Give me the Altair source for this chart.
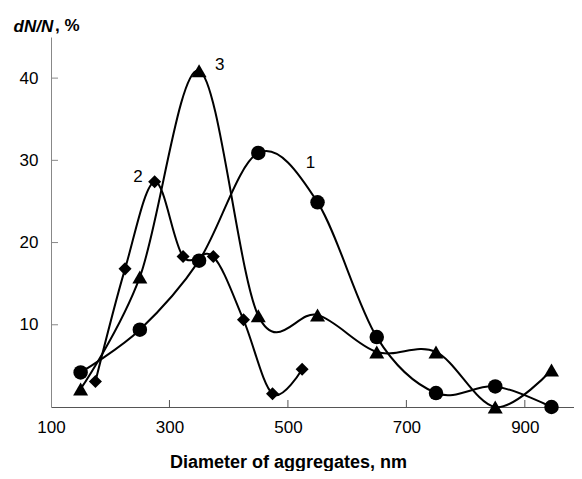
import altair as alt
import pandas as pd

# Series 1 (circles)
s1_x = [150, 250, 350, 450, 550, 650, 750, 850, 945]
s1_y = [4.2, 9.4, 17.8, 30.9, 24.9, 8.5, 1.7, 2.5, 0.0]
# Series 2 (diamonds)
s2_x = [175, 225, 275, 323, 374, 425, 474, 524]
s2_y = [3.1, 16.8, 27.4, 18.3, 18.3, 10.6, 1.6, 4.6]
# Series 3 (triangles)
s3_x = [150, 250, 350, 450, 550, 650, 750, 850, 945]
s3_y = [2.2, 15.8, 40.9, 11.1, 11.2, 6.7, 6.7, 0.0, 4.5]

# curve labels
lab_text = ["1", "2", "3"]
lab_x = [538, 247, 385]
lab_y = [29.7, 28.0, 41.6]

x_ticks = [100, 300, 500, 700, 900]
y_ticks = [10, 20, 30, 40]

W, H = 523, 370
xs = alt.Scale(domain=[100, 983], nice=False, zero=False)
ys = alt.Scale(domain=[0, 45], nice=False)

df1 = pd.DataFrame({"x": s1_x, "y": s1_y})
df2 = pd.DataFrame({"x": s2_x, "y": s2_y})
df3 = pd.DataFrame({"x": s3_x, "y": s3_y})
dlab = pd.DataFrame({"t": lab_text, "x": lab_x, "y": lab_y})
dxt = pd.DataFrame({"v": x_ticks[1:]})
dyt = pd.DataFrame({"v": y_ticks})

xaxis = alt.Axis(values=x_ticks, ticks=False, grid=False, domainColor="#555",
                 labelFont="Liberation Sans", labelFontSize=17, labelColor="black",
                 labelPadding=12, labelFlush=False, title="Diameter of aggregates, nm",
                 titleFont="Liberation Sans", titleFontSize=18, titleFontWeight="bold",
                 titleX=237, titleY=60, titleBaseline="alphabetic", titleAlign="center",
                 titleColor="black")
yaxis = alt.Axis(values=y_ticks, ticks=False, grid=False, domainColor="#888",
                 labelFont="Liberation Sans", labelFontSize=17, labelColor="black",
                 labelPadding=13, title="dN/N", titleFont="Liberation Sans",
                 titleFontSize=17, titleFontWeight="bold", titleFontStyle="italic",
                 titleAngle=0, titleX=-38, titleY=-6, titleAlign="left",
                 titleBaseline="alphabetic", titleColor="black")

def series(df, shape, size):
    line = alt.Chart(df).mark_line(color="black", strokeWidth=2, interpolate="cardinal").encode(
        x=alt.X("x:Q", scale=xs, axis=xaxis), y=alt.Y("y:Q", scale=ys, axis=yaxis))
    pts = alt.Chart(df).mark_point(shape=shape, filled=True, color="black", opacity=1, size=size).encode(
        x="x:Q", y="y:Q")
    return line + pts

l1 = series(df1, "circle", 210)
l2 = series(df2, "diamond", 170)
l3 = series(df3, "triangle-up", 225)

labels = alt.Chart(dlab).mark_text(font="Liberation Sans", fontSize=17, color="black").encode(
    x="x:Q", y="y:Q", text="t:N")

xt = alt.Chart(dxt).mark_rule(color="#555").encode(x="v:Q", y=alt.value(H), y2=alt.value(H - 7))
yt = alt.Chart(dyt).mark_rule(color="#888").encode(y="v:Q", x=alt.value(0), x2=alt.value(7))

pct = alt.Chart(pd.DataFrame({"t": [", %"]})).mark_text(
    font="Liberation Sans", fontSize=17, fontWeight="bold", align="left", baseline="alphabetic",
    color="black").encode(x=alt.value(4), y=alt.value(-6), text="t:N")

chart = alt.layer(xt, yt, l1, l2, l3, labels, pct).properties(
    width=W, height=H, padding={"left": 43, "top": 29, "right": 0, "bottom": 64},
    autosize=alt.AutoSizeParams(type="none")
).configure_view(stroke=None)

chart.save("out.html", embed_options={"renderer": "svg", "actions": False})
